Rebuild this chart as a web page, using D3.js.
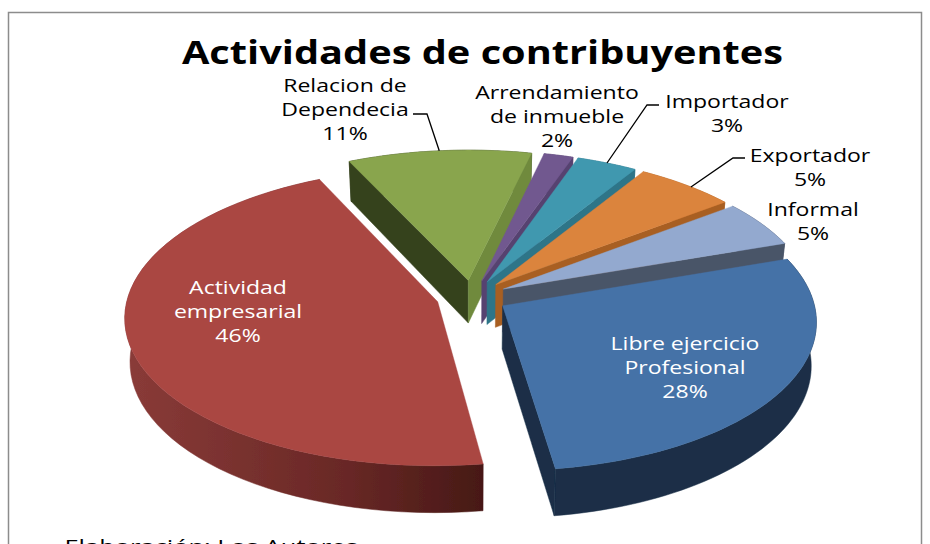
<!DOCTYPE html>
<html><head><meta charset="utf-8">
<style>html,body{margin:0;padding:0;background:#fff;overflow:hidden}svg{display:block}text{font-family:"Open Sans",sans-serif}</style>
<script src="https://cdn.jsdelivr.net/npm/d3@7/dist/d3.min.js"></script>
</head><body>
<script>
const titleText = "Actividades de contribuyentes";
const footnote = "Elaboración: Los Autores";
const categories = ["Libre ejercicio Profesional","Actividad empresarial","Relacion de Dependecia","Arrendamiento de inmueble","Importador","Exportador","Informal"];
const labelLines = [["Libre ejercicio","Profesional"],["Actividad","empresarial"],["Relacion de","Dependecia"],["Arrendamiento","de inmueble"],["Importador"],["Exportador"],["Informal"]];
const values = [28,45.3,10.6,1.7,3.5,5.8,5.1];
const percents = ["28%","46%","11%","2%","3%","5%","5%"];
const topColors = ["#4572A7","#AA4643","#89A54E","#71588F","#4198AF","#DB843D","#93A9CF"];
const endWallColors = ["#1A2E47","#5c2422","#6F8A3E","#574370","#2E7488","#A85F22","#4A5568"];
const startWallColors = ["#1A2E47","#5c2422","#36431F","#574370","#2E7488","#A85F22","#4A5568"];
const labelX = [685,238,345,557,727,810,813];
const labelY = [350,294,92,99,108,162,216];
const labelFill = ["#fff","#fff","#000","#000","#000","#000","#000"];
const leaderElbows = [null,null,[[413,114],[427,114]],null,[[659,105],[647,105]],[[745,158],[733,158]],null];
const leaderAngleShift = {2:0,4:0,5:0.02};

const W=930,H=544;
const svg=d3.select("body").append("svg").attr("width",W).attr("height",H);
const defs=svg.append("defs");
defs.append("filter").attr("id","soft").attr("x","-5%").attr("y","-5%").attr("width","110%").attr("height","110%")
  .append("feGaussianBlur").attr("stdDeviation",0.45);
const redGrad=defs.append("linearGradient").attr("id","redWall").attr("gradientUnits","userSpaceOnUse")
  .attr("x1",125).attr("x2",490).attr("y1",0).attr("y2",0);
redGrad.append("stop").attr("offset",0).attr("stop-color","#8A3B38");
redGrad.append("stop").attr("offset",0.6).attr("stop-color","#692826");
redGrad.append("stop").attr("offset",1).attr("stop-color","#451815");

svg.append("rect").attr("x",8.5).attr("y",12.5).attr("width",913).attr("height",H+20)
  .attr("fill","#fff").attr("stroke","#8c8c8c").attr("stroke-width",1.5);

// projection of the tilted pie
const cx=472,cy=297,Bx=310,Ay=146.5,k=0.1,explode=0.115,depth=43;
const xS=d3.scaleLinear().domain([0,1]).range([0,Bx]);
const yS=d3.scaleLinear().domain([0,1]).range([0,Ay]);
function proj(x,y,h){
  const d=1-k*y;
  const f=h?0.985:1;
  return [cx+xS(x)/d*f, cy+yS(y)/d+(h?depth/(1-0.08*y):0)];
}
const pie=d3.pie().sort(null).value(d=>d)
  .startAngle(71*Math.PI/180).endAngle((71+360)*Math.PI/180);
const arcs=pie(values);
const line=d3.line();
function slicePts(a,h){
  const mid=(a.startAngle+a.endAngle)/2;
  const ox=explode*Math.sin(mid),oy=-explode*Math.cos(mid);
  const ts=d3.range(0,61).map(i=>a.startAngle+(a.endAngle-a.startAngle)*i/60);
  return {apex:proj(ox,oy,h),rim:ts.map(t=>proj(ox+Math.sin(t),oy-Math.cos(t),h))};
}
const pointAt=(a,t)=>{
  const mid=(a.startAngle+a.endAngle)/2;
  const ox=explode*Math.sin(mid),oy=-explode*Math.cos(mid);
  return proj(ox+Math.sin(t),oy-Math.cos(t),0);
};
const order=[2,3,4,5,6,1,0];
const g=svg.append("g").attr("filter","url(#soft)");
order.forEach(i=>{
  const a=arcs[i],top=slicePts(a,false),bot=slicePts(a,true);
  const sl=g.append("g").attr("class","slice").attr("data-name",categories[i]);
  const wall=(p,c)=>sl.append("path").attr("d",line(p)+"Z").attr("fill",c).attr("stroke",c).attr("stroke-width",0.5);
  // outer rim
  wall(top.rim.concat(bot.rim.slice().reverse()), i===1?"url(#redWall)":startWallColors[i]);
  const s=Math.sin(a.startAngle),e=Math.sin(a.endAngle);
  if(s<0) wall([top.apex,top.rim[0],bot.rim[0],bot.apex],startWallColors[i]);
  if(e>0) wall([top.apex,top.rim[60],bot.rim[60],bot.apex],endWallColors[i]);
  sl.append("path").attr("d",line([top.apex].concat(top.rim))+"Z").attr("fill",topColors[i]).attr("stroke",topColors[i]).attr("stroke-width",0.4);
});

// leaders
const lg=svg.append("g");
leaderElbows.forEach((el,i)=>{
  if(!el) return;
  const a=arcs[i];
  const p=pointAt(a,(a.startAngle+a.endAngle)/2+(leaderAngleShift[i]||0));
  lg.append("path").attr("d",line(el.concat([p]))).attr("fill","none").attr("stroke","#000").attr("stroke-width",1.3);
});

// text stretched horizontally like the reference
const stretch=1.28;
function put(x,y,str,size,fill,weight,sx){
  return svg.append("text").attr("transform",`translate(${x},${y}) scale(${sx||stretch},1)`)
    .attr("text-anchor","middle").attr("font-size",size).attr("fill",fill).attr("font-weight",weight||400).text(str);
}
labelLines.forEach((ls,i)=>{
  const lines=ls.concat([percents[i]]);
  lines.forEach((t,j)=>put(labelX[i],labelY[i]+j*24,t,18,labelFill[i]));
});
put(482.5,64,titleText,33,"#000",700,1.204);
put(211,553,footnote,19,"#000",400,1.34);
</script>
</body></html>
